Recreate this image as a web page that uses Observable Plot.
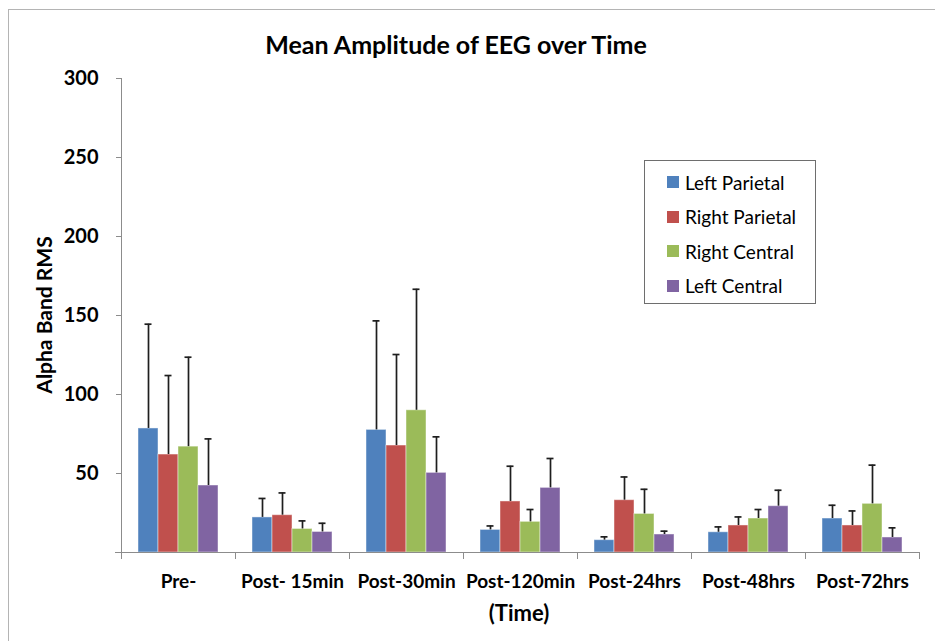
<!DOCTYPE html>
<html>
<head>
<meta charset="utf-8">
<script src="https://cdn.jsdelivr.net/npm/d3@7"></script>
<script src="https://cdn.jsdelivr.net/npm/@observablehq/plot@0.6"></script>
<style>
  html, body { margin: 0; padding: 0; background: #fff; }
  #wrap { position: relative; width: 935px; height: 641px; overflow: hidden; font-family: Lato, "DejaVu Sans", sans-serif; }
  #border { position: absolute; left: 8px; top: 9px; width: 1000px; height: 700px; border-left: 1px solid #b4b4b4; border-top: 1px solid #b4b4b4; }
  #chart { position: absolute; left: 0; top: 0; }
  .title { position: absolute; left: 0; width: 912px; top: 29px; line-height: 30px; text-align: center; font-weight: bold; font-size: 25px; color: #000; }
  .ylab { position: absolute; left: 43px; top: 315px; transform: translate(-50%, -50%) rotate(-90deg); white-space: nowrap; font-weight: bold; font-size: 21px; color: #000; }
  .xlab { position: absolute; left: 519px; top: 612px; transform: translate(-50%, -50%); font-weight: bold; font-size: 22px; color: #000; }
  #legend { position: absolute; left: 644px; top: 160px; width: 172px; height: 144px; border: 1px solid #6e6e6e; background: #fff; box-sizing: border-box; }
  .item { position: absolute; left: 22px; height: 20px; display: flex; align-items: center; font-size: 19px; color: #000; white-space: nowrap; }
  .sw { width: 12px; height: 12px; margin-right: 6px; }
</style>
</head>
<body>
<div id="wrap">
  <div id="border"></div>
  <div id="chart"></div>
  <div class="title">Mean Amplitude of EEG over Time</div>
  <div class="ylab">Alpha Band RMS</div>
  <div class="xlab">(Time)</div>
  <div id="legend"></div>
</div>
<script>
const categories = ["Pre-", "Post- 15min", "Post-30min", "Post-120min", "Post-24hrs", "Post-48hrs", "Post-72hrs"];
const seriesNames = ["Left Parietal", "Right Parietal", "Right Central", "Left Central"];
const seriesColors = ["#4F81BD", "#C0504D", "#9BBB59", "#8064A2"];

const leftParietal     = [78.5, 22.2, 77.6, 14.3, 7.8, 12.8, 21.5];
const leftParietalErr  = [66.0, 12.0, 69.0, 2.5, 2.1, 3.4, 8.4];
const rightParietal    = [62.0, 23.6, 67.7, 32.3, 33.1, 17.1, 17.1];
const rightParietalErr = [50.0, 14.1, 57.6, 22.3, 14.7, 5.4, 9.2];
const rightCentral     = [67.0, 14.9, 90.0, 19.4, 24.4, 21.5, 30.8];
const rightCentralErr  = [56.6, 5.1, 76.6, 7.8, 15.6, 5.7, 24.5];
const leftCentral      = [42.4, 13.0, 50.4, 40.9, 11.4, 29.3, 9.5];
const leftCentralErr   = [29.5, 5.5, 22.8, 18.6, 2.1, 10.1, 6.1];

const yTicks = [50, 100, 150, 200, 250, 300];

const valueSets = [leftParietal, rightParietal, rightCentral, leftCentral];
const errSets = [leftParietalErr, rightParietalErr, rightCentralErr, leftCentralErr];

const rows = [];
categories.forEach((c, i) => {
  seriesNames.forEach((s, j) => {
    rows.push({time: c, series: s, value: valueSets[j][i], upper: valueSets[j][i] + errSets[j][i]});
  });
});

const chart = Plot.plot({
  width: 935,
  height: 641,
  marginLeft: 119,
  marginRight: 14,
  marginTop: 78,
  marginBottom: 89,
  style: {fontFamily: "Lato, 'DejaVu Sans', sans-serif", background: "transparent", color: "#000"},
  fx: {domain: categories, padding: 0, label: null},
  x: {domain: seriesNames, paddingInner: 0, paddingOuter: 0.8, axis: null},
  y: {domain: [0, 300], label: null},
  color: {domain: seriesNames, range: seriesColors},
  marks: [
    Plot.axisY({ticks: yTicks, tickSize: 5, tickPadding: 18, fontSize: 20, fontWeight: "bold", label: null}),
    Plot.axisFx({anchor: "bottom", tickSize: 0, tickPadding: 22, fontSize: 19, fontWeight: "bold", label: null}),
    Plot.barY(rows, {fx: "time", x: "series", y: "value", fill: "series", stroke: "white", strokeOpacity: 0.45, strokeWidth: 1}),
    Plot.ruleX(rows, {fx: "time", x: "series", y1: "value", y2: "upper", stroke: "#1e1e1e", strokeWidth: 1.7}),
    Plot.tickY(rows, {fx: "time", x: "series", y: "upper", stroke: "#1e1e1e", strokeWidth: 1.7, insetLeft: 6.5, insetRight: 6.5})
  ]
});

document.getElementById("chart").appendChild(chart);

// axis lines and category boundary ticks, positioned through Plot's scales
const svg = d3.select(chart);
svg.selectAll("[aria-label='y-axis tick'] path, [aria-label='y-axis tick']").attr("stroke", "#8c8c8c");
const fx = chart.scale("fx");
const y = chart.scale("y");
const y0 = y.apply(0), yTop = y.apply(300);
const x0 = fx.apply(categories[0]);
const xEnd = fx.apply(categories[categories.length - 1]) + fx.bandwidth;
const g = svg.append("g").attr("stroke", "#8c8c8c").attr("stroke-width", 1).attr("shape-rendering", "crispEdges");
g.append("line").attr("x1", x0 - 6).attr("x2", xEnd).attr("y1", y0).attr("y2", y0);
g.append("line").attr("x1", x0).attr("x2", x0).attr("y1", yTop).attr("y2", y0 + 7);
categories.forEach((c) => {
  const xb = fx.apply(c);
  g.append("line").attr("x1", xb).attr("x2", xb).attr("y1", y0).attr("y2", y0 + 7);
});
g.append("line").attr("x1", xEnd).attr("x2", xEnd).attr("y1", y0).attr("y2", y0 + 7);

// legend
const legend = document.getElementById("legend");
seriesNames.forEach((s, i) => {
  const it = document.createElement("div");
  it.className = "item";
  it.style.top = (11 + i * 34.6) + "px";
  const sw = document.createElement("span");
  sw.className = "sw";
  sw.style.background = seriesColors[i];
  it.appendChild(sw);
  it.appendChild(document.createTextNode(s));
  legend.appendChild(it);
});
</script>
</body>
</html>
